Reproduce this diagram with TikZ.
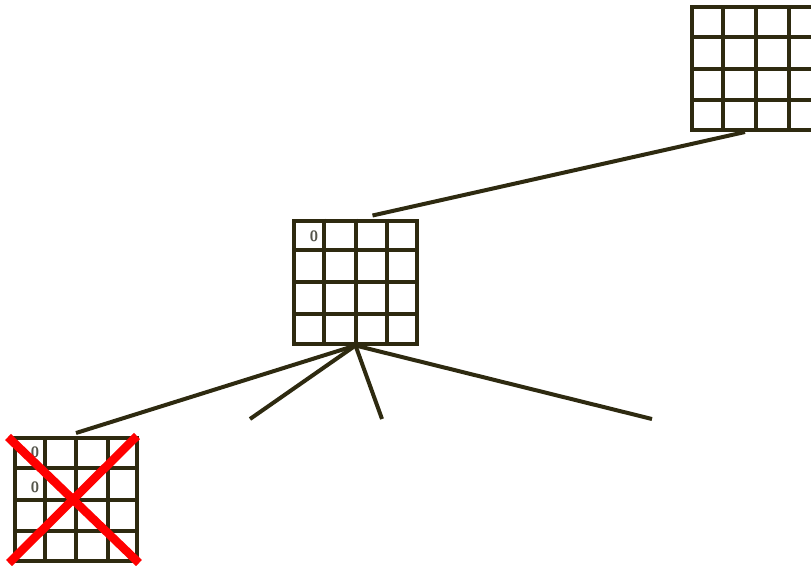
\documentclass[tikz,border=0pt]{standalone}
\usetikzlibrary{calc}
\definecolor{ink}{RGB}{46,42,16}
\definecolor{digit}{RGB}{85,85,75}
\newcommand\mygridlines[1]{%
  \foreach \f in {0.25,0.5,0.75}{%
    \draw[gridline] ($(#1.north west)!\f!(#1.north east)$) -- ($(#1.south west)!\f!(#1.south east)$);
    \draw[gridline] ($(#1.north west)!\f!(#1.south west)$) -- ($(#1.north east)!\f!(#1.south east)$);
  }}
\begin{document}
\begin{tikzpicture}[x=1pt,y=-1pt,
  grid/.style={draw=ink,line width=4pt,rectangle,inner sep=0pt,minimum width=#1,minimum height=123pt},
  gridline/.style={draw=ink,line width=4pt},
  conn/.style={draw=ink,line width=4pt},
  cross/.style={draw=red,line width=8.5pt},
  dig/.style={font=\sffamily\bfseries\fontsize{15}{15}\selectfont,text=digit,inner sep=0pt}]
\useasboundingbox (0,0) rectangle (811,565);
\clip (0,0) rectangle (811,565);
% grids
\node[grid=128pt] (tr) at (756,68.5) {};
\mygridlines{tr}
\node[grid=123pt] (mid) at (355.5,282) {};
\mygridlines{mid}
\node[grid=122pt] (bl) at (76,499.5) {};
\mygridlines{bl}
% digits
\node[dig] (d1) at (314,236) {0};
\node[dig] (d2) at (35,452) {0};
\node[dig] (d3) at (35,487) {0};
% free ends
\coordinate (e1) at (250,419);
\coordinate (e2) at (382,419);
\coordinate (e3) at (652,419);
% connectors
\draw[conn] ($(tr.south)+(-11,0)$) -- ($(mid.north)+(17,-3)$);
\draw[conn] (mid.south) -- ($(bl.north)+(0,-3)$);
\draw[conn] (mid.south) -- (e1);
\draw[conn] (mid.south) -- (e2);
\draw[conn] (mid.south) -- (e3);
% red cross
\coordinate (xa) at (8,437);
\coordinate (xb) at (139,563);
\coordinate (xc) at (137,436);
\coordinate (xd) at (9,563);
\draw[cross] (xa) -- (xb);
\draw[cross] (xc) -- (xd);
\end{tikzpicture}
\end{document}
